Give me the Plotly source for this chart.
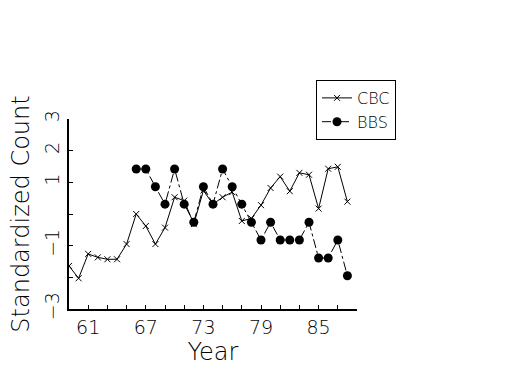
import plotly.graph_objects as go

years_cbc = list(range(59, 89))
cbc = [-1.64, -2.03, -1.26, -1.37, -1.43, -1.43, -0.95, 0.0, -0.38, -0.95,
       -0.43, 0.53, 0.42, -0.32, 0.74, 0.31, 0.53, 0.69, -0.22, -0.14,
       0.28, 0.82, 1.18, 0.72, 1.30, 1.24, 0.17, 1.43, 1.49, 0.39]
years_bbs = list(range(66, 89))
bbs = [1.42, 1.42, 0.86, 0.31, 1.42, 0.31, -0.26, 0.86, 0.31, 1.42, 0.86,
       0.31, -0.26, -0.82, -0.26, -0.82, -0.82, -0.82, -0.26, -1.39, -1.39,
       -0.82, -1.95]

x_tickvals = list(range(59, 90, 2))
x_ticktext = [str(v) if v in (61, 67, 73, 79, 85) else "" for v in x_tickvals]
y_tickvals = [3, 2, 1, 0, -1, -2, -3]
y_ticktext = ["3", "2", "1", "", "\u22121", "", "\u22123"]

font_family = "DejaVu Sans"

fig = go.Figure()
fig.add_trace(go.Scatter(
    x=years_cbc, y=cbc, name="CBC", mode="lines+markers",
    line=dict(color="black", width=1),
    marker=dict(symbol="x-thin", size=6, line=dict(color="black", width=1), color="black"),
))
fig.add_trace(go.Scatter(
    x=years_bbs, y=bbs, name="BBS", mode="lines+markers",
    line=dict(color="black", width=1, dash="dashdot"),
    marker=dict(symbol="circle", size=9, color="black"),
))

fig.update_layout(
    width=525, height=375,
    margin=dict(l=69, r=168, t=119, b=66, autoexpand=False),
    paper_bgcolor="white", plot_bgcolor="white",
    font=dict(family=font_family, color="black", weight=200),
    showlegend=True,
    legend=dict(
        x=396/525, y=1 - 80/375, xref="container", yref="container",
        xanchor="right", yanchor="top",
        bordercolor="black", borderwidth=1,
        font=dict(size=16, family=font_family, weight=200, color="black"),
        bgcolor="white", tracegroupgap=0, itemwidth=30,
    ),
    xaxis=dict(
        range=[59, 89], tickvals=x_tickvals, ticktext=x_ticktext,
        ticks="inside", ticklen=4, tickcolor="black", tickwidth=1,
        showline=True, linecolor="black", linewidth=2,
        showgrid=False, zeroline=False,
        tickfont=dict(size=19, color="black"),
        title=dict(text="Year", font=dict(size=24, color="black"), standoff=6),
    ),
    yaxis=dict(
        range=[-3, 3], tickvals=y_tickvals, ticktext=y_ticktext,
        ticks="inside", ticklen=4, tickcolor="black", tickwidth=1,
        showline=True, linecolor="black", linewidth=2,
        showgrid=False, zeroline=False, tickangle=-90,
        tickfont=dict(size=19, color="black"),
        title=dict(text="Standardized Count", font=dict(size=24, color="black"), standoff=5),
    ),
)

fig.write_html("out.html")
